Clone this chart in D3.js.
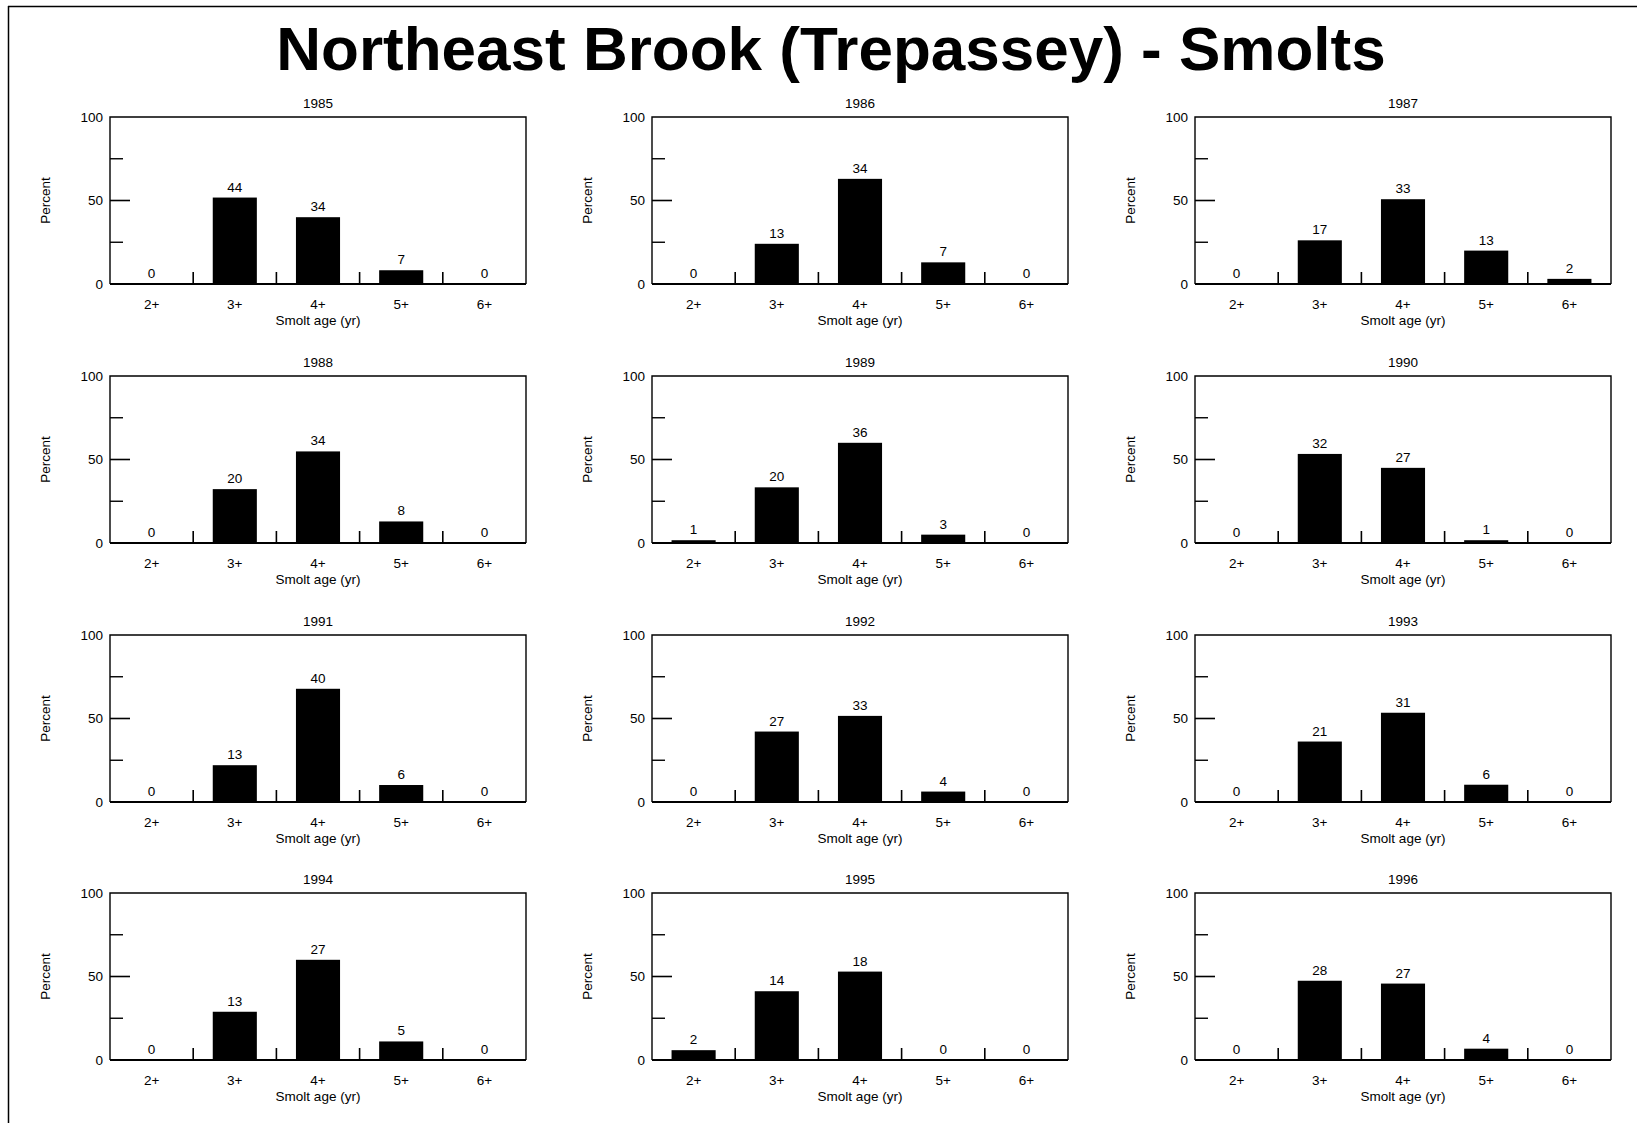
<!DOCTYPE html>
<html>
<head>
<meta charset="utf-8">
<script src="https://cdn.jsdelivr.net/npm/d3@7"></script>
<style>
  html, body { margin: 0; padding: 0; background: #fff; }
  svg { display: block; font-family: "Liberation Sans", Arial, Helvetica, sans-serif; }
</style>
</head>
<body>
<script>
// Smolt counts by age class for each year (value labels are counts; bars show percent of the year's total)
const ages = ["2+", "3+", "4+", "5+", "6+"];
const years = [1985, 1986, 1987, 1988, 1989, 1990, 1991, 1992, 1993, 1994, 1995, 1996];
const counts1985 = [0, 44, 34, 7, 0];
const counts1986 = [0, 13, 34, 7, 0];
const counts1987 = [0, 17, 33, 13, 2];
const counts1988 = [0, 20, 34, 8, 0];
const counts1989 = [1, 20, 36, 3, 0];
const counts1990 = [0, 32, 27, 1, 0];
const counts1991 = [0, 13, 40, 6, 0];
const counts1992 = [0, 27, 33, 4, 0];
const counts1993 = [0, 21, 31, 6, 0];
const counts1994 = [0, 13, 27, 5, 0];
const counts1995 = [2, 14, 18, 0, 0];
const counts1996 = [0, 28, 27, 4, 0];
const yTicksMajor = [0, 50, 100];
const yTicksMinor = [25, 75];

const allCounts = [counts1985, counts1986, counts1987, counts1988, counts1989, counts1990,
                   counts1991, counts1992, counts1993, counts1994, counts1995, counts1996];

const W = 1637, H = 1123;
const svg = d3.select("body").append("svg").attr("width", W).attr("height", H);

// page frame (left and top edges)
svg.append("line").attr("x1", 8.5).attr("x2", 8.5).attr("y1", 6).attr("y2", H)
  .attr("stroke", "#000").attr("stroke-width", 1.5);
svg.append("line").attr("x1", 8).attr("x2", W).attr("y1", 6.5).attr("y2", 6.5)
  .attr("stroke", "#000").attr("stroke-width", 1.5);

svg.append("text")
  .attr("x", 831).attr("y", 70)
  .attr("text-anchor", "middle")
  .attr("font-weight", "bold")
  .attr("font-size", 62)
  .text("Northeast Brook (Trepassey) - Smolts");

const colLeft = [110, 652, 1195];
const rowTop = [117, 376, 635, 893];
const boxW = 416, boxH = 167;
const fs = 13.5;

years.forEach((yr, i) => {
  const counts = allCounts[i];
  const total = d3.sum(counts);
  const data = ages.map((a, k) => ({ age: a, n: counts[k], pct: counts[k] / total * 100 }));

  const g = svg.append("g")
    .attr("transform", `translate(${colLeft[i % 3]},${rowTop[Math.floor(i / 3)]})`);

  const x = d3.scaleBand().domain(ages).range([0, boxW]).paddingInner(0.47).paddingOuter(0.235);
  const xc = d3.scaleBand().domain(ages).range([0, boxW]);
  const y = d3.scaleLinear().domain([0, 100]).range([boxH, 0]);

  // bars
  g.selectAll("rect.bar").data(data).join("rect")
    .attr("class", "bar")
    .attr("x", d => x(d.age))
    .attr("width", x.bandwidth())
    .attr("y", d => y(d.pct))
    .attr("height", d => boxH - y(d.pct))
    .attr("fill", "#000");

  // count labels above bars
  g.selectAll("text.val").data(data).join("text")
    .attr("class", "val")
    .attr("x", d => x(d.age) + x.bandwidth() / 2)
    .attr("y", d => y(d.pct) - 6)
    .attr("text-anchor", "middle")
    .attr("font-size", fs)
    .text(d => d.n);

  // plot box
  g.append("path")
    .attr("d", `M0,${boxH}V0H${boxW}V${boxH}`)
    .attr("fill", "none").attr("stroke", "#000").attr("stroke-width", 1.4);
  g.append("line")
    .attr("x1", 0).attr("x2", boxW).attr("y1", boxH).attr("y2", boxH)
    .attr("stroke", "#000").attr("stroke-width", 2.2);

  // y axis: labels outside, ticks pointing inward
  const yAxis = d3.axisLeft(y).tickValues(yTicksMajor).tickSize(0).tickPadding(7);
  const ya = g.append("g").call(yAxis);
  ya.select(".domain").remove();
  ya.selectAll("text").attr("font-size", fs).attr("font-family", null);

  g.selectAll("line.ymaj").data([50]).join("line")
    .attr("class", "ymaj")
    .attr("x1", 0).attr("x2", 20).attr("y1", d => y(d)).attr("y2", d => y(d))
    .attr("stroke", "#000").attr("stroke-width", 1.6);
  g.selectAll("line.ymin").data(yTicksMinor).join("line")
    .attr("class", "ymin")
    .attr("x1", 0).attr("x2", 13).attr("y1", d => y(d)).attr("y2", d => y(d))
    .attr("stroke", "#000").attr("stroke-width", 1.4);

  // x axis: category labels, separator ticks at class boundaries
  const xAxis = d3.axisBottom(xc).tickSize(0).tickPadding(15);
  const xa = g.append("g").attr("transform", `translate(0,${boxH})`).call(xAxis);
  xa.select(".domain").remove();
  xa.selectAll("text").attr("font-size", fs).attr("font-family", null);

  g.selectAll("line.sep").data(ages.slice(1)).join("line")
    .attr("class", "sep")
    .attr("x1", d => xc(d)).attr("x2", d => xc(d))
    .attr("y1", boxH).attr("y2", boxH - 12)
    .attr("stroke", "#000").attr("stroke-width", 1.6);

  // titles
  g.append("text")
    .attr("x", boxW / 2).attr("y", -9)
    .attr("text-anchor", "middle").attr("font-size", fs)
    .text(yr);
  g.append("text")
    .attr("x", boxW / 2).attr("y", boxH + 41)
    .attr("text-anchor", "middle").attr("font-size", fs)
    .text("Smolt age (yr)");
  g.append("text")
    .attr("transform", `translate(-60,${boxH / 2}) rotate(-90)`)
    .attr("text-anchor", "middle").attr("font-size", fs)
    .text("Percent");
});
</script>
</body>
</html>
